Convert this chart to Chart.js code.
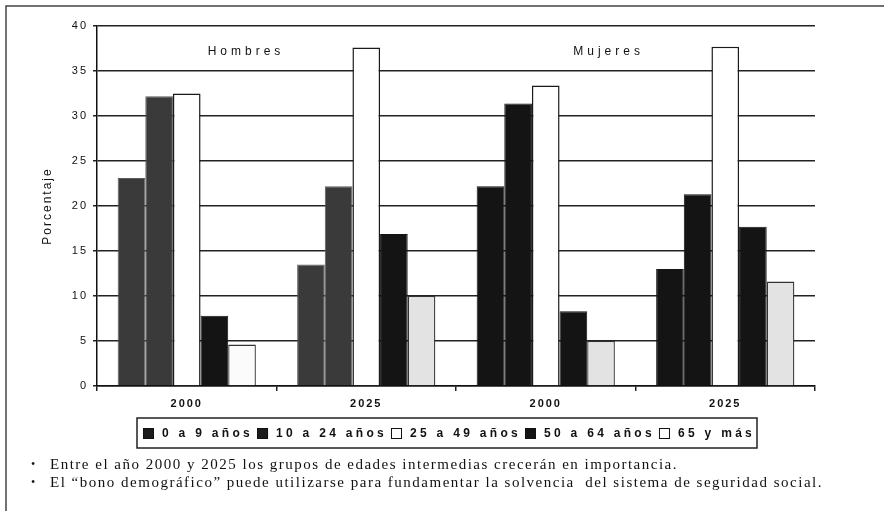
<!DOCTYPE html>
<html>
<head>
<meta charset="utf-8">
<script src="https://cdn.jsdelivr.net/npm/chart.js@4/dist/chart.umd.min.js"></script>
<style>
  html, body { margin: 0; padding: 0; background: #fff; }
  canvas { display: block; }
</style>
</head>
<body>
<canvas id="chart" width="884" height="511"></canvas>
<script>
// Population share by age group (%), men and women, 2000 vs 2025
const categories = ['2000', '2025', '2000', '2025'];
const panelTitles = ['Hombres', 'Mujeres'];
const seriesNames = ['0 a 9 años', '10 a 24 años', '25 a 49 años', '50 a 64 años', '65 y más'];
const age0to9   = [23.1, 13.5, 22.2, 13.0];
const age10to24 = [32.2, 22.2, 31.4, 21.3];
const age25to49 = [32.5, 37.6, 33.4, 37.7];
const age50to64 = [7.8, 16.9, 8.3, 17.7];
const age65plus = [4.6, 10.0, 5.0, 11.6];
const yTickValues = [0, 5, 10, 15, 20, 25, 30, 35, 40];
const notes = [
  'Entre el año 2000 y 2025 los grupos de edades intermedias crecerán en importancia.',
  'El “bono demográfico” puede utilizarse para fundamentar la solvencia  del sistema de seguridad social.'
];

// --- styling ---
const FONT = '"Liberation Sans", Arial, sans-serif';
const SERIF = '"Liberation Serif", "Times New Roman", serif';
const MEN_DARK = '#3a3a3a', WOMEN_DARK = '#141414';
const fills = [
  [MEN_DARK, MEN_DARK, WOMEN_DARK, WOMEN_DARK],
  [MEN_DARK, MEN_DARK, WOMEN_DARK, WOMEN_DARK],
  '#ffffff',
  '#141414',
  ['#fbfbfb', '#e3e3e3', '#e3e3e3', '#e3e3e3']
];
const borders = [
  ['#5c5c5c', '#5c5c5c', WOMEN_DARK, WOMEN_DARK],
  ['#5c5c5c', '#5c5c5c', WOMEN_DARK, WOMEN_DARK],
  '#1a1a1a',
  '#141414',
  '#333333'
];
const borderWidths = [1, 1, 1.5, 1, 1.3];
const legendFills = ['#1c1c1c', '#1c1c1c', '#ffffff', '#141414', '#ffffff'];

const seriesValues = [age0to9, age10to24, age25to49, age50to64, age65plus];
const datasets = seriesValues.map((vals, i) => ({
  label: seriesNames[i],
  data: vals,
  backgroundColor: fills[i],
  borderColor: borders[i],
  borderWidth: borderWidths[i],
  categoryPercentage: 0.77,
  barPercentage: 1.0
}));

function spacedText(ctx, text, x, y, spacing) {
  ctx.letterSpacing = spacing + 'px';
  ctx.fillText(text, x, y);
}

const decorations = {
  id: 'decorations',
  beforeLayout(chart) { chart.ctx.letterSpacing = '2px'; },
  beforeDraw(chart) {
    const ctx = chart.ctx;
    ctx.save();
    ctx.fillStyle = '#fff';
    ctx.fillRect(0, 0, chart.width, chart.height);
    ctx.restore();
    ctx.letterSpacing = '2px';
  },
  afterDraw(chart) {
    const ctx = chart.ctx;
    const xs = chart.scales.x, ys = chart.scales.y;
    ctx.save();

    // outer frame (left and top edges)
    ctx.strokeStyle = '#444';
    ctx.lineWidth = 1.5;
    ctx.beginPath();
    ctx.moveTo(6, 511);
    ctx.lineTo(6, 6);
    ctx.lineTo(884, 6);
    ctx.stroke();

    // panel titles
    ctx.fillStyle = '#111';
    ctx.font = '12px ' + FONT;
    ctx.textAlign = 'center';
    ctx.textBaseline = 'middle';
    spacedText(ctx, panelTitles[0], xs.getPixelForValue(0.33), ys.getPixelForValue(37.1), 4);
    spacedText(ctx, panelTitles[1], xs.getPixelForValue(2.35), ys.getPixelForValue(37.1), 4);

    // legend
    const boxL = 137, boxR = 757, boxT = 418, boxB = 448;
    ctx.strokeStyle = '#222';
    ctx.lineWidth = 1.5;
    ctx.strokeRect(boxL, boxT, boxR - boxL, boxB - boxT);
    const cy = (boxT + boxB) / 2;
    let x = 143;
    ctx.font = 'bold 12px ' + FONT;
    ctx.textAlign = 'left';
    ctx.letterSpacing = '3.3px';
    chart.data.datasets.forEach((ds, i) => {
      ctx.fillStyle = legendFills[i];
      ctx.fillRect(x, cy - 5, 11, 11);
      ctx.strokeStyle = '#111';
      ctx.lineWidth = 1;
      ctx.strokeRect(x + 0.5, cy - 4.5, 10, 10);
      x += 19;
      ctx.fillStyle = '#111';
      ctx.fillText(ds.label, x, cy + 1);
      x += ctx.measureText(ds.label).width + 4;
    });

    // notes under the chart
    ctx.fillStyle = '#111';
    ctx.textBaseline = 'middle';
    const ends = [678, 823];
    notes.forEach((t, i) => {
      const y = 465 + i * 18;
      ctx.letterSpacing = '0px';
      ctx.font = '12px ' + SERIF;
      ctx.fillText('•', 31, y);
      ctx.font = '15px ' + SERIF;
      const w = ctx.measureText(t).width;
      const sp = (ends[i] - 50 - w) / t.length;
      spacedText(ctx, t, 50, y, sp);
    });

    ctx.restore();
  }
};

Chart.defaults.font.family = FONT;
Chart.defaults.color = '#111';

new Chart(document.getElementById('chart'), {
  type: 'bar',
  data: { labels: categories, datasets },
  options: {
    responsive: false,
    animation: false,
    devicePixelRatio: 1,
    events: [],
    layout: { padding: { left: 0, right: 69, top: 26, bottom: 95 } },
    plugins: { legend: { display: false }, tooltip: { enabled: false } },
    scales: {
      x: {
        grid: { offset: true, drawOnChartArea: false, drawTicks: true, tickLength: 5, color: '#222', lineWidth: 1.5 },
        border: { display: true, color: '#111', width: 1.5 },
        ticks: { font: { size: 11, weight: 'bold' }, color: '#111', padding: 6, maxRotation: 0 },
        afterFit: s => { s.height = 30; }
      },
      y: {
        min: 0,
        max: 40,
        afterBuildTicks: s => { s.ticks = yTickValues.map(v => ({ value: v })); },
        ticks: { font: { size: 11 }, color: '#111', padding: 5 },
        grid: { color: '#222', lineWidth: 1.5, tickLength: 4 },
        border: { display: true, color: '#111', width: 1.5 },
        title: { display: true, text: 'Porcentaje', font: { size: 12 }, color: '#111', padding: { top: 40, bottom: 0 } },
        afterFit: s => { s.width = 97; }
      }
    }
  },
  plugins: [decorations]
});
</script>
</body>
</html>
